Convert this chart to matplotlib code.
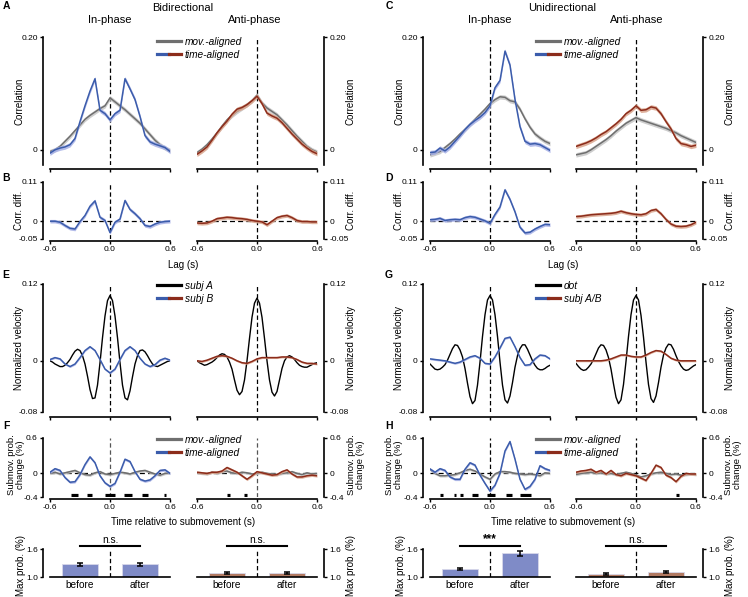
"""Submovement coordination figure: bidirectional vs unidirectional."""

import numpy as np
import matplotlib.pyplot as plt
from matplotlib.lines import Line2D
from matplotlib.legend_handler import HandlerTuple

plt.rcParams["font.family"] = ["Liberation Sans", "DejaVu Sans"]
plt.rcParams["axes.linewidth"] = 1.2

W, H = 748, 597
PX = 0.72  # points per pixel at dpi 100

# time axes (s)
LAG = np.round(np.arange(-0.6, 0.6001, 0.05), 3)
VEL_T = np.round(np.arange(-0.6, 0.6001, 0.025), 3)

# ---- A: bidirectional correlation ----
A_IN_MOV = [-0.003, 0.0, 0.006, 0.015, 0.024, 0.034, 0.044, 0.054, 0.061, 0.067, 0.073, 0.078, 0.092,
            0.085, 0.078, 0.071, 0.063, 0.055, 0.047, 0.037, 0.027, 0.017, 0.009, 0.003, -0.001]
A_IN_TIME = [-0.006, 0.0, 0.003, 0.005, 0.009, 0.02, 0.05, 0.078, 0.104, 0.126, 0.07, 0.064, 0.053,
             0.064, 0.07, 0.126, 0.108, 0.089, 0.059, 0.025, 0.014, 0.01, 0.007, 0.004, -0.003]
A_ANTI_MOV = [-0.005, 0.001, 0.009, 0.019, 0.03, 0.042, 0.053, 0.061, 0.068, 0.074, 0.08, 0.087, 0.097,
              0.083, 0.074, 0.068, 0.062, 0.053, 0.044, 0.034, 0.024, 0.015, 0.006, 0.0, -0.004]
A_ANTI_TIME = [-0.008, -0.002, 0.005, 0.017, 0.03, 0.041, 0.051, 0.063, 0.072, 0.075, 0.08, 0.087, 0.095,
               0.082, 0.065, 0.06, 0.056, 0.048, 0.038, 0.028, 0.019, 0.01, 0.003, -0.003, -0.007]

# ---- B: bidirectional correlation difference ----
B_IN = [0.0, 0.0, -0.003, -0.012, -0.02, -0.022, -0.001, 0.016, 0.042, 0.057, 0.011, 0.002, -0.032,
        -0.003, 0.006, 0.058, 0.033, 0.021, 0.007, -0.012, -0.015, -0.008, -0.003, -0.001, 0.0]
B_ANTI = [-0.005, -0.006, -0.005, 0.0, 0.007, 0.009, 0.011, 0.01, 0.008, 0.007, 0.005, 0.002, 0.0,
          -0.002, -0.01, 0.0, 0.01, 0.014, 0.016, 0.01, 0.002, -0.001, -0.001, -0.002, -0.002]

# ---- C: unidirectional correlation ----
C_IN_MOV = [-0.009, -0.006, -0.003, 0.004, 0.011, 0.019, 0.028, 0.036, 0.045, 0.054, 0.063, 0.072, 0.082,
            0.089, 0.094, 0.093, 0.087, 0.085, 0.072, 0.055, 0.04, 0.028, 0.021, 0.015, 0.011]
C_IN_TIME = [-0.005, -0.004, 0.003, -0.002, 0.005, 0.015, 0.025, 0.036, 0.045, 0.052, 0.058, 0.066, 0.078,
             0.11, 0.123, 0.175, 0.15, 0.089, 0.041, 0.015, 0.01, 0.011, 0.009, 0.004, -0.001]
C_ANTI_MOV = [-0.009, -0.007, -0.005, 0.0, 0.006, 0.012, 0.018, 0.025, 0.033, 0.04, 0.047, 0.052, 0.057,
              0.053, 0.05, 0.047, 0.044, 0.041, 0.038, 0.034, 0.03, 0.025, 0.021, 0.017, 0.013]
C_ANTI_TIME = [0.006, 0.009, 0.012, 0.016, 0.021, 0.027, 0.032, 0.039, 0.046, 0.054, 0.064, 0.07, 0.078,
               0.07, 0.071, 0.076, 0.074, 0.064, 0.05, 0.037, 0.02, 0.011, 0.009, 0.006, 0.008]

# ---- D: unidirectional correlation difference ----
D_IN = [0.004, 0.005, 0.008, 0.002, 0.004, 0.005, 0.004, 0.01, 0.013, 0.011, 0.006, 0.001, -0.006,
        0.019, 0.04, 0.088, 0.061, 0.026, -0.017, -0.033, -0.031, -0.022, -0.015, -0.009, -0.01]
D_ANTI = [0.013, 0.014, 0.016, 0.018, 0.019, 0.02, 0.021, 0.022, 0.024, 0.028, 0.024, 0.021, 0.019,
          0.018, 0.021, 0.03, 0.033, 0.021, 0.005, -0.008, -0.014, -0.015, -0.014, -0.01, -0.003]

# ---- E: bidirectional velocity (subj A on 25 ms grid, subj B on 50 ms grid) ----
E_IN_A = [0.0, -0.002, -0.005, -0.007, -0.009, -0.009, -0.007, -0.003, 0.002, 0.009, 0.015, 0.018,
          0.016, 0.008, -0.005, -0.024, -0.045, -0.059, -0.058, -0.038, -0.003, 0.036, 0.07, 0.094,
          0.102,
          0.094, 0.07, 0.036, -0.003, -0.038, -0.058, -0.061, -0.047, -0.025, -0.005, 0.008, 0.016,
          0.017, 0.014, 0.008, 0.001, -0.005, -0.008, -0.009, -0.007, -0.005, -0.003, -0.001, 0.0]
E_IN_B = [0.002, 0.005, 0.003, -0.005, -0.009, -0.005, 0.005, 0.016, 0.022, 0.016, 0.002, -0.013, -0.019,
          -0.013, 0.002, 0.016, 0.022, 0.016, 0.004, -0.005, -0.009, -0.006, 0.001, 0.004, 0.001]
E_ANTI_A = [0.0, -0.003, -0.005, -0.007, -0.006, -0.004, -0.002, 0.001, 0.005, 0.009, 0.011, 0.01,
            0.006, -0.002, -0.013, -0.03, -0.046, -0.053, -0.048, -0.03, 0.0, 0.035, 0.068, 0.09,
            0.098,
            0.09, 0.068, 0.035, 0.0, -0.03, -0.049, -0.055, -0.048, -0.03, -0.012, 0.0, 0.006,
            0.008, 0.006, 0.002, -0.003, -0.007, -0.009, -0.01, -0.01, -0.008, -0.006, -0.004, -0.003]
E_ANTI_B = [0.0, -0.001, 0.001, 0.004, 0.007, 0.008, 0.007, 0.004, 0.0, -0.003, -0.004, -0.001, 0.003,
            0.005, 0.005, 0.005, 0.005, 0.006, 0.006, 0.005, 0.002, -0.002, -0.004, -0.004, -0.005]

# ---- G: unidirectional velocity ----
G_IN_DOT = [-0.005, -0.009, -0.013, -0.014, -0.013, -0.01, -0.006, 0.001, 0.01, 0.019, 0.025, 0.024,
            0.017, 0.006, -0.012, -0.035, -0.056, -0.067, -0.062, -0.038, -0.002, 0.038, 0.072, 0.095,
            0.102,
            0.095, 0.072, 0.038, -0.002, -0.038, -0.061, -0.066, -0.055, -0.034, -0.01, 0.008, 0.019,
            0.025, 0.025, 0.018, 0.009, 0.0, -0.007, -0.012, -0.014, -0.014, -0.012, -0.009, -0.007]
G_IN_SUBJ = [0.003, 0.002, 0.001, 0.0, -0.002, -0.004, -0.002, 0.002, 0.006, 0.008, 0.004, -0.004, -0.005,
             0.006, 0.02, 0.035, 0.037, 0.022, 0.005, -0.007, -0.006, 0.003, 0.009, 0.008, 0.003]
G_ANTI_DOT = [-0.004, -0.009, -0.013, -0.015, -0.014, -0.01, -0.005, 0.002, 0.011, 0.02, 0.025, 0.024,
              0.017, 0.005, -0.013, -0.036, -0.057, -0.067, -0.061, -0.037, -0.001, 0.038, 0.072, 0.095,
              0.102,
              0.095, 0.071, 0.037, -0.002, -0.037, -0.059, -0.065, -0.055, -0.034, -0.01, 0.009, 0.02,
              0.026, 0.025, 0.018, 0.008, -0.001, -0.008, -0.013, -0.015, -0.014, -0.011, -0.008, -0.006]
G_ANTI_SUBJ = [0.0, 0.0, 0.0, 0.0, 0.0, 0.0, 0.001, 0.003, 0.006, 0.009, 0.009, 0.007, 0.006,
               0.006, 0.009, 0.013, 0.016, 0.015, 0.01, 0.004, 0.001, 0.0, 0.0, 0.0, 0.0]

# ---- F: bidirectional submovement probability change (%) ----
F_IN_MOV = [0.0, 0.02, -0.01, 0.01, 0.03, 0.05, 0.01, -0.02, -0.03, 0.01, 0.03, -0.01, -0.02,
            0.0, 0.02, 0.01, -0.01, 0.02, 0.04, 0.05, 0.02, -0.01, -0.03, 0.0, 0.01]
F_IN_TIME = [0.02, 0.08, 0.05, -0.07, -0.15, -0.14, -0.02, 0.15, 0.28, 0.18, -0.04, -0.16, -0.22,
             -0.17, 0.02, 0.24, 0.2, 0.03, -0.1, -0.13, -0.11, -0.04, 0.05, 0.06, 0.0]
F_ANTI_MOV = [0.01, 0.0, -0.01, 0.02, 0.0, 0.03, 0.04, 0.01, 0.0, 0.02, 0.01, -0.01, 0.0,
              0.02, 0.0, -0.01, -0.02, 0.0, 0.01, 0.03, 0.0, -0.02, 0.01, -0.01, 0.0]
F_ANTI_TIME = [0.02, 0.01, 0.0, 0.02, 0.02, 0.04, 0.1, 0.06, 0.02, -0.04, -0.1, -0.04, 0.03,
               0.01, -0.01, -0.03, -0.02, 0.03, 0.06, -0.01, -0.06, -0.06, -0.04, -0.03, -0.04]
F_IN_SIG = [(-0.393, -0.317), (-0.227, -0.183), (-0.05, 0.05), (0.143, 0.217), (0.317, 0.383),
            (0.537, 0.563)]
F_ANTI_SIG = [(-0.296, -0.27), (-0.13, -0.104)]

# ---- H: unidirectional submovement probability change (%) ----
H_IN_MOV = [0.07, 0.0, -0.04, -0.04, -0.03, -0.02, 0.01, 0.05, 0.07, 0.04, -0.01, -0.06, -0.1,
            -0.01, 0.03, 0.03, 0.02, 0.0, -0.01, -0.02, -0.01, -0.02, -0.04, 0.01, 0.0]
H_IN_TIME = [0.075, 0.02, 0.08, 0.05, -0.06, -0.1, -0.1, 0.07, 0.18, 0.14, -0.03, -0.17, -0.3,
             -0.2, 0.0, 0.38, 0.54, 0.24, -0.1, -0.27, -0.22, -0.1, 0.13, 0.08, 0.05]
H_ANTI_MOV = [-0.02, 0.0, 0.01, 0.02, 0.0, 0.01, -0.01, 0.0, -0.02, 0.0, 0.02, 0.0, -0.03,
              -0.06, -0.04, -0.01, 0.01, 0.02, 0.0, -0.02, -0.01, -0.03, -0.02, -0.01, -0.02]
H_ANTI_TIME = [0.02, 0.04, 0.05, 0.07, 0.02, 0.05, -0.01, 0.05, -0.02, -0.04, 0.0, -0.02, -0.04,
               -0.08, -0.12, 0.0, 0.14, 0.1, -0.03, -0.07, -0.14, -0.05, 0.0, -0.01, -0.01]
H_IN_SIG = [(-0.496, -0.47), (-0.363, -0.337), (-0.296, -0.27), (-0.183, -0.12), (-0.033, 0.047),
            (0.157, 0.217), (0.297, 0.407)]
H_ANTI_SIG = [(0.404, 0.43)]

# ---- bars: max submovement probability (%) ----
BAR_LABELS = ["before", "after"]
F_IN_BARS, F_IN_ERR = [1.27, 1.27], [0.035, 0.035]
F_ANTI_BARS, F_ANTI_ERR = [1.09, 1.085], [0.015, 0.017]
H_IN_BARS, H_IN_ERR = [1.165, 1.51], [0.02, 0.05]
H_ANTI_BARS, H_ANTI_ERR = [1.065, 1.105], [0.012, 0.015]
F_IN_SIGN, F_ANTI_SIGN, H_IN_SIGN, H_ANTI_SIGN = "n.s.", "n.s.", "***", "n.s."

# SEM half-widths of the shaded bands
CORR_SEM, DIFF_SEM, VEL_SEM, SUB_SEM = 0.004, 0.005, 0.0015, 0.022

# colours
BLUE, BLUE_FILL = "#3b5cab", "#a6b0e6"
RED, RED_FILL = "#8c2c1b", "#d9a48c"
GRAY, GRAY_FILL = "#6f6f6f", "#c6c6c6"
BLUE_BAR, RED_BAR = "#7f8bc7", "#b27a62"

fig = plt.figure(figsize=(W / 100, H / 100), dpi=100)


def rect(x0, y0, x1, y1):
    return [x0 / W, 1 - y1 / H, (x1 - x0) / W, (y1 - y0) / H]


# pixel extents of columns and rows
COLS = {"L_in": (50, 170), "L_anti": (197, 317), "R_in": (430, 550), "R_anti": (576, 696)}
ROWS = {"corr": (37, 165), "diff": (182, 239), "vel": (284, 412), "sub": (438, 497), "bar": (549, 577)}


def make_ax(col, row):
    x0, x1 = COLS[col]
    y0, y1 = ROWS[row]
    return fig.add_axes(rect(x0, y0, x1, y1))


def frame(ax, side, ylim, yticks, ytl, drop, xlabels, ylabel, lx, lsize=7):
    ax.set_xlim(-0.6, 0.6)
    ax.set_ylim(*ylim)
    ax.patch.set_visible(False)
    ax.spines["top"].set_visible(False)
    ax.spines["right" if side == "left" else "left"].set_visible(False)
    ax.spines[side].set_position(("outward", 7 * PX))
    ax.spines["bottom"].set_position(("outward", drop * PX))
    if side == "right":
        ax.yaxis.tick_right()
        ax.yaxis.set_label_position("right")
    ax.set_yticks(yticks)
    ax.set_yticklabels(ytl)
    ax.set_xticks([-0.6, 0.0, 0.6])
    ax.set_xticklabels(["-0.6", "0.0", "0.6"] if xlabels else [])
    ax.tick_params(direction="out", length=2.5, width=1.0, labelsize=6, pad=1.2)
    ax.set_ylabel(ylabel, fontsize=lsize, linespacing=1.0)
    ax.yaxis.set_label_coords(lx, 0.55 if "\n" in ylabel else 0.5)


def band(ax, t, y, sem, color, fill, z):
    y = np.asarray(y)
    ax.fill_between(t, y - sem, y + sem, color=fill, lw=0, alpha=0.85, zorder=z)
    ax.plot(t, y, color=color, lw=1.1, zorder=z + 0.5)


def vline(ax, color="k"):
    ax.axvline(0, color=color, lw=0.9, ls=(0, (3.5, 2.2)), zorder=1)


def hline(ax):
    ax.axhline(0, color="k", lw=0.9, ls=(0, (4, 2.5)), zorder=1)


def legend(ax, labels, first_color, x, y):
    h1 = Line2D([], [], color=first_color, lw=2.3)
    h2 = (Line2D([], [], color=BLUE, lw=2.3), Line2D([], [], color=RED, lw=2.3))
    ax.legend([h1, h2], labels, handler_map={tuple: HandlerTuple(ndivide=None, pad=0)},
              loc="upper left", bbox_to_anchor=(x / W, 1 - y / H), bbox_transform=fig.transFigure,
              frameon=False, prop=dict(style="italic", size=7.3), handlelength=2.4,
              handletextpad=0.35, labelspacing=0.25, borderpad=0, borderaxespad=0)


def ftext(x, y, s, **kw):
    fig.text(x / W, 1 - y / H, s, ha=kw.pop("ha", "center"), va=kw.pop("va", "center"), **kw)


def bar_panel(ax, side, vals, errs, sign, color):
    ax.set_xlim(-0.6, 0.6)
    ax.set_ylim(1.0, 1.6)
    ax.patch.set_visible(False)
    pos = [-0.3, 0.3]
    ax.bar(pos, vals, width=0.36, color=color, edgecolor="#d8d8ea", lw=0.6, zorder=2)
    ax.errorbar(pos, vals, yerr=errs, fmt="none", ecolor="k", elinewidth=1.1,
                capsize=2.2, capthick=1.1, zorder=3)
    vline(ax)
    ax.plot(pos, [1.665, 1.665], color="k", lw=1.5, clip_on=False)
    ax.text(0, 1.69, sign, ha="center", va="bottom", fontsize=7.3 if sign != "***" else 8.5,
            fontweight="bold" if sign == "***" else "normal")
    ax.spines["top"].set_visible(False)
    ax.spines["right" if side == "left" else "left"].set_visible(False)
    ax.spines[side].set_position(("outward", 7 * PX))
    if side == "right":
        ax.yaxis.tick_right()
        ax.yaxis.set_label_position("right")
    ax.set_yticks([1.0, 1.6])
    ax.set_yticklabels(["1.0", "1.6"])
    ax.set_xticks(pos)
    ax.set_xticklabels(BAR_LABELS, fontsize=7.3)
    ax.tick_params(axis="y", direction="out", length=2.5, width=1.0, labelsize=6, pad=1.2)
    ax.tick_params(axis="x", length=0, pad=2.5)
    ax.set_ylabel("Max prob. (%)", fontsize=7)
    ax.yaxis.set_label_coords(-0.2 if side == "left" else 1.24, 0.4)


def sig_marks(ax, spans):
    starts = [s for s, e in spans]
    ends = [e for s, e in spans]
    ax.hlines([-0.37] * len(spans), starts, ends, color="k", lw=2.3, zorder=6)


def half(prefix, corr, diff, vel, sub, bars, vel_labels, vel_first, sign):
    L_in, L_anti = ("L_in", "L_anti") if prefix == "L" else ("R_in", "R_anti")
    lx_sub_in = -0.205 if prefix == "L" else -0.225
    lx_sub_anti = 1.25 if prefix == "L" else 1.235
    for col, side in ((L_in, "left"), (L_anti, "right")):
        is_in = side == "left"
        color, fill = (BLUE, BLUE_FILL) if is_in else (RED, RED_FILL)
        k = 0 if is_in else 1
        lx = -0.215 if is_in else 1.24
        leg_x = 157 if prefix == "L" else 536

        ax = make_ax(col, "corr")
        vline(ax)
        band(ax, LAG, corr[k][0], CORR_SEM, GRAY, GRAY_FILL, 2)
        band(ax, LAG, corr[k][1], CORR_SEM, color, fill, 4)
        frame(ax, side, (-0.027, 0.2), [0, 0.2], ["0", "0.20"], 4, False, "Correlation", lx)
        if is_in:
            legend(ax, ["mov.-aligned", "time-aligned"], GRAY, leg_x, 37)

        ax = make_ax(col, "diff")
        vline(ax)
        hline(ax)
        band(ax, LAG, diff[k], DIFF_SEM, color, fill, 4)
        frame(ax, side, (-0.05, 0.11), [-0.05, 0, 0.11], ["-0.05", "0", "0.11"], 2, True,
              "Corr. diff.", lx)

        ax = make_ax(col, "vel")
        vline(ax)
        ax.plot(VEL_T, vel[k][0], color="k", lw=1.0, zorder=3)
        band(ax, LAG, vel[k][1], VEL_SEM, color, fill, 4)
        frame(ax, side, (-0.08, 0.12), [-0.08, 0, 0.12], ["-0.08", "0", "0.12"], 5, False,
              "Normalized velocity", lx)
        if is_in:
            legend(ax, vel_labels, vel_first, leg_x, 281)

        ax = make_ax(col, "sub")
        vline(ax, "#555555" if prefix == "L" else "k")
        hline(ax)
        band(ax, LAG, sub[k][0], SUB_SEM, GRAY, GRAY_FILL, 2)
        band(ax, LAG, sub[k][1], SUB_SEM, color, fill, 4)
        sig_marks(ax, sub[k][2])
        frame(ax, side, (-0.4, 0.6), [-0.4, 0, 0.6], ["-0.4", "0", "0.6"], 2, True,
              "Submov. prob.\nchange (%)", lx_sub_in if is_in else lx_sub_anti, lsize=6.8)
        if is_in:
            legend(ax, ["mov.-aligned", "time-aligned"], GRAY, leg_x, 435)

        ax = make_ax(col, "bar")
        bar_panel(ax, side, bars[k][0], bars[k][1], sign[k], BLUE_BAR if is_in else RED_BAR)


half("L",
     corr=[(A_IN_MOV, A_IN_TIME), (A_ANTI_MOV, A_ANTI_TIME)],
     diff=[B_IN, B_ANTI],
     vel=[(E_IN_A, E_IN_B), (E_ANTI_A, E_ANTI_B)],
     sub=[(F_IN_MOV, F_IN_TIME, F_IN_SIG), (F_ANTI_MOV, F_ANTI_TIME, F_ANTI_SIG)],
     bars=[(F_IN_BARS, F_IN_ERR), (F_ANTI_BARS, F_ANTI_ERR)],
     vel_labels=["subj A", "subj B"], vel_first="k",
     sign=[F_IN_SIGN, F_ANTI_SIGN])

half("R",
     corr=[(C_IN_MOV, C_IN_TIME), (C_ANTI_MOV, C_ANTI_TIME)],
     diff=[D_IN, D_ANTI],
     vel=[(G_IN_DOT, G_IN_SUBJ), (G_ANTI_DOT, G_ANTI_SUBJ)],
     sub=[(H_IN_MOV, H_IN_TIME, H_IN_SIG), (H_ANTI_MOV, H_ANTI_TIME, H_ANTI_SIG)],
     bars=[(H_IN_BARS, H_IN_ERR), (H_ANTI_BARS, H_ANTI_ERR)],
     vel_labels=["dot", "subj A/B"], vel_first="k",
     sign=[H_IN_SIGN, H_ANTI_SIGN])

# titles and shared labels
ftext(183, 8, "Bidirectional", fontsize=8)
ftext(562, 8, "Unidirectional", fontsize=8)
for x, s in ((110, "In-phase"), (255, "Anti-phase"), (490, "In-phase"), (637, "Anti-phase")):
    ftext(x, 20, s, fontsize=8)
for x in (183, 563):
    ftext(x, 265, "Lag (s)", fontsize=7)
    ftext(x, 522, "Time relative to submovement (s)", fontsize=7)
for x, y, s in ((6, 6, "A"), (6, 178, "B"), (389, 6, "C"), (389, 178, "D"),
                (6, 275, "E"), (389, 275, "G"), (6, 426, "F"), (389, 426, "H")):
    ftext(x, y, s, fontsize=7.5, fontweight="bold")

fig.savefig("out.png", dpi=100)
